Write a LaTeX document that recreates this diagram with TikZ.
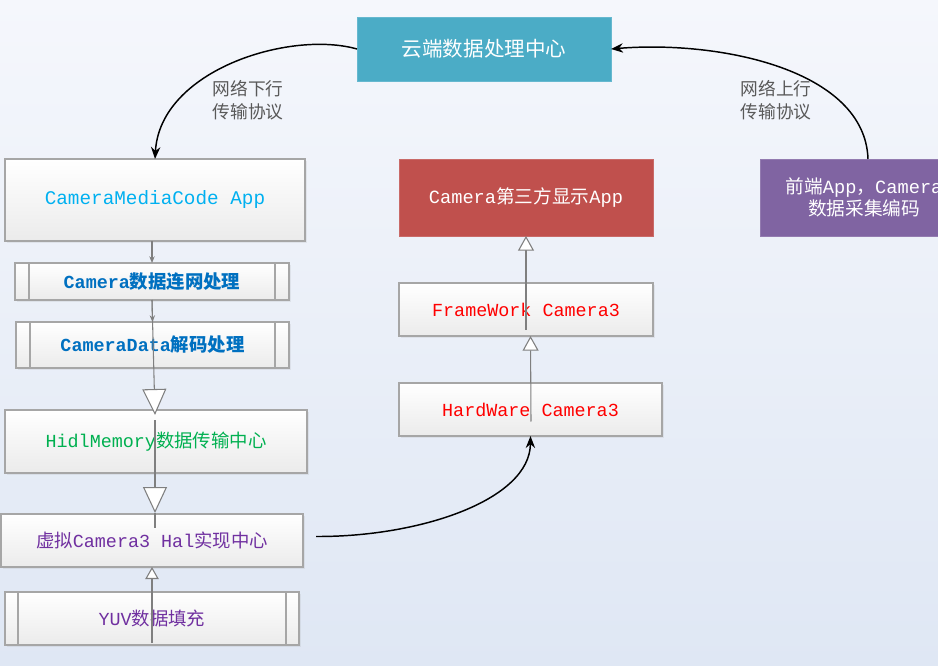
\documentclass[tikz,border=0pt]{standalone}
\usepackage{fontspec}
\setmainfont{Liberation Mono}
\newfontfamily\cjk{Noto Sans CJK SC}
\newfontfamily\mono{Liberation Mono}
\newcommand\zh[1]{{\cjk #1}}
\usetikzlibrary{arrows.meta,calc,shadows}
\definecolor{bgtop}{HTML}{F5F7FC}
\definecolor{bgbot}{HTML}{DFE7F4}
\definecolor{boxborder}{HTML}{A6A6A6}
\definecolor{boxbottom}{HTML}{EBEBEB}
\definecolor{cloudc}{HTML}{4BACC6}
\definecolor{redc}{HTML}{C0504D}
\definecolor{purplec}{HTML}{8064A2}
\definecolor{tblue}{HTML}{00B0F0}
\definecolor{tblue2}{HTML}{0070C0}
\definecolor{tgreen}{HTML}{00B050}
\definecolor{tpurple}{HTML}{7030A0}
\definecolor{tred}{HTML}{FF0000}
\definecolor{labelc}{HTML}{595959}
\definecolor{linec}{HTML}{7F7F7F}
\tikzset{
  box/.style={draw=boxborder, line width=0.8pt, top color=white, bottom color=boxbottom,
    inner sep=0pt, outer sep=0pt, align=center,
    drop shadow={opacity=0.12, shadow xshift=1.2pt, shadow yshift=-1.2pt},
    font=\mono\fontsize{13.8}{16}\selectfont},
  solidbox/.style={draw=#1!85!white, fill=#1, inner sep=0pt, outer sep=0pt, align=center,
    text=white, font=\mono\fontsize{14}{20}\selectfont},
  innerline/.style={draw=boxborder, line width=0.8pt},
  conn/.style={draw=linec, line width=0.8pt},
  smallarr/.style={conn, -{Stealth[length=5pt,width=4pt]}},
  gen/.style={conn, -{Triangle[length=19.5pt,width=18pt,fill=white]}},
  genmid/.style={conn, -{Triangle[length=11pt,width=12pt,fill=white]}},
  gensmall/.style={conn, -{Triangle[length=9pt,width=10pt,fill=white]}},
  blk/.style={draw=black, line width=1.1pt, -{Stealth[length=9pt,width=7pt]}},
  lbl/.style={text=labelc, align=left, inner sep=0pt, font=\cjk\fontsize{13.3}{17.5}\selectfont},
}
\begin{document}
\begin{tikzpicture}[x=0.75pt,y=-0.75pt]
\useasboundingbox (0,0) rectangle (938,666);
\clip (0,0) rectangle (938,666);
\shade[top color=bgtop, bottom color=bgbot] (0,0) rectangle (938,666);

% top cloud
\node[solidbox=cloudc, minimum width=190.5pt, minimum height=48pt, font=\cjk\fontsize{15.4}{18}\selectfont] (cloud) at (484,49) {云端数据处理中心};

% left column
\node[box, minimum width=225pt, minimum height=61.5pt, text=tblue, font=\mono\fontsize{14.5}{17}\selectfont] (cmc) at (155,200) {CameraMediaCode App};
\node[box, minimum width=205.5pt, minimum height=27.75pt, text=tblue2, font=\mono\bfseries\fontsize{13.8}{16}\selectfont] (net) at (152,281.5) {Camera\zh{数据连网处理}};
\node[box, minimum width=204.75pt, minimum height=34.5pt, text=tblue2, font=\mono\bfseries\fontsize{13.8}{16}\selectfont] (dec) at (152.5,345) {CameraData\zh{解码处理}};
\node[box, minimum width=226.5pt, minimum height=47.25pt, text=tgreen] (hidl) at (156,441.5) {HidlMemory\zh{数据传输中心}};
\node[box, minimum width=226.5pt, minimum height=39.75pt, text=tpurple] (hal) at (152,540.5) {\zh{虚拟}Camera3 Hal\zh{实现中心}};
\node[box, minimum width=220.5pt, minimum height=39.75pt, text=tpurple] (yuv) at (152,618.5) {YUV\zh{数据填充}};

\foreach \n/\d in {net/14, dec/14, yuv/13} {
  \draw[innerline] ($(\n.north west)+(\d,0)$) -- ($(\n.south west)+(\d,0)$);
  \draw[innerline] ($(\n.north east)+(-\d,0)$) -- ($(\n.south east)+(-\d,0)$);
}

% middle column
\node[solidbox=redc, minimum width=190.5pt, minimum height=57.75pt] (app3) at (526,197.5) {Camera\zh{第三方显示}App};
\node[box, minimum width=190.5pt, minimum height=39.75pt, text=tred] (fw) at (526,309.5) {FrameWork Camera3};
\node[box, minimum width=197.25pt, minimum height=39.75pt, text=tred] (hw) at (530.5,409.5) {HardWare Camera3};

% right box
\node[solidbox=purplec, minimum width=156pt, minimum height=57.75pt, font=\mono\fontsize{14}{17}\selectfont] (front) at (864,197.5) {\zh{前端}App\zh{，}Camera\\\zh{数据采集编码}};

% labels
\node[lbl] (lbldown) at (248,100) {网络下行\\传输协议};
\node[lbl] (lblup) at (776,100) {网络上行\\传输协议};

% black curves
\draw[blk] (cloud.west) .. controls (290,30) and (160,70) .. (cmc.north);
\draw[blk] ($(front.north)+(4,0)$) .. controls (865,70) and (720,40) .. (cloud.east);
\draw[blk] ($(hal.east)+(13,-4)$) .. controls (420,537) and (530,500) .. (hw.south);

% left column connectors
\draw[smallarr] (cmc.south -| net.north) -- (net.north);
\draw[smallarr] (net.south) -- (dec.north);
\draw[gen] (net.south) -- ($(hidl.north)+(-1,5)$);
\draw[gen] ($(hidl.north)+(-1,10)$) -- ($(hal.north)+(3,-1)$);
\draw[conn] ($(hal.north)+(3,-1)$) -- ($(hal.north)+(3,14)$);
\draw[gensmall] ($(yuv.south)+(0,-2)$) -- (hal.south);

% middle column connectors
\draw[genmid] ($(hw.center)+(0.5,12)$) -- (fw.south -| hw.center);
\draw[genmid] ($(fw.center)+(0,20.5)$) -- (app3.south);
\end{tikzpicture}
\end{document}
